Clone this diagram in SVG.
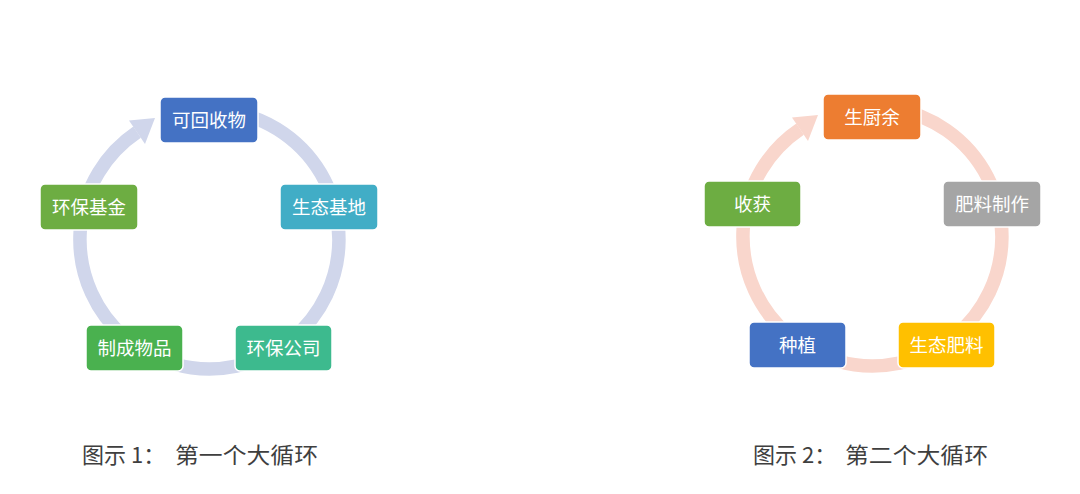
<svg xmlns="http://www.w3.org/2000/svg" width="1080" height="494" viewBox="0 0 1080 494">
<style>
.node rect{stroke:#ffffff;stroke-width:1.5}
.node text{font-family:"Noto Sans CJK SC","Noto Sans",sans-serif;font-size:18.5px;fill:#ffffff;text-anchor:middle}
.cap{font-family:"Noto Sans CJK SC","Liberation Serif",serif;font-size:22px;fill:#3f3f3f}
.ring1{fill:none;stroke:#D0D6EB;stroke-width:13.5}
.ring2{fill:none;stroke:#F9D6CC;stroke-width:13.5}
</style>
<rect width="1080" height="494" fill="#ffffff"/>
<g id="connectors">
<path class="ring1" d="M232,112 A129.5,129.5 0 1 1 137.1,132.1"/>
<polygon points="129,120.5 145,144 155,118" fill="#D0D6EB"/>
<path class="ring2" d="M895,109 A129.5,129.5 0 1 1 800.1,129.1"/>
<polygon points="792,117.5 808,141 818,115" fill="#F9D6CC"/>
</g>
<g id="n1" class="node"><rect x="160" y="97" width="98" height="46" rx="5" fill="#4472C4"/><text x="209" y="126.5">可回收物</text></g>
<g id="n2" class="node"><rect x="280" y="184" width="98" height="46" rx="5" fill="#41ADC6"/><text x="329" y="213.5">生态基地</text></g>
<g id="n3" class="node"><rect x="235" y="325" width="97" height="46" rx="5" fill="#3DBA8E"/><text x="283.5" y="354.5">环保公司</text></g>
<g id="n4" class="node"><rect x="86" y="325" width="97" height="46" rx="5" fill="#4AB14F"/><text x="134.5" y="354.5">制成物品</text></g>
<g id="n5" class="node"><rect x="40" y="184" width="98" height="46" rx="5" fill="#6DAD42"/><text x="89" y="213.5">环保基金</text></g>
<g id="m1" class="node"><rect x="823" y="94" width="98" height="46" rx="5" fill="#ED7D31"/><text x="872" y="123.5">生厨余</text></g>
<g id="m2" class="node"><rect x="943" y="181" width="98" height="46" rx="5" fill="#A5A5A5"/><text x="992" y="210.5">肥料制作</text></g>
<g id="m3" class="node"><rect x="898" y="322" width="97" height="46" rx="5" fill="#FFC000"/><text x="946.5" y="351.5">生态肥料</text></g>
<g id="m4" class="node"><rect x="749" y="322" width="97" height="46" rx="5" fill="#4472C4"/><text x="797.5" y="351.5">种植</text></g>
<g id="m5" class="node"><rect x="704" y="181" width="97" height="46" rx="5" fill="#6DAD42"/><text x="752.5" y="210.5">收获</text></g>
<g id="captions">
<text class="cap" x="82" y="463">图示 1：</text>
<text class="cap" x="175" y="463" textLength="143" lengthAdjust="spacingAndGlyphs">第一个大循环</text>
<text class="cap" x="753" y="463">图示 2：</text>
<text class="cap" x="845" y="463" textLength="143" lengthAdjust="spacingAndGlyphs">第二个大循环</text>
</g>
</svg>
